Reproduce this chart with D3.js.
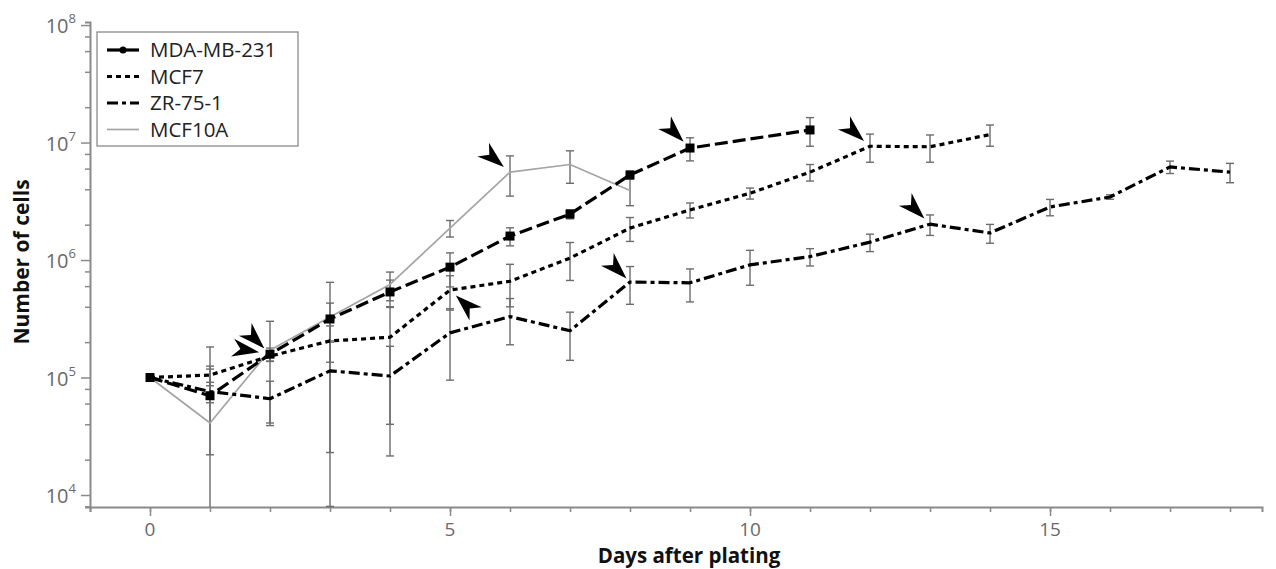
<!DOCTYPE html>
<html><head><meta charset="utf-8">
<script src="https://cdn.jsdelivr.net/npm/d3@7"></script>
<style>body{margin:0;background:#fff}</style>
</head><body><svg id="c" width="1276" height="569"></svg>
<script>
// ---- data ----
const mdaDays = [0,1,2,3,4,5,6,7,8,9,11];
const mdaMean = [1e5,7.0e4,1.58e5,3.15e5,5.35e5,8.7e5,1.6e6,2.46e6,5.3e6,8.98e6,1.28e7];
const mdaSd   = [0,4.8e4,2e4,1.15e5,1.4e5,2.8e5,2.8e5,2.2e5,4e5,2e6,3.5e6];

const mcf7Days = [0,1,2,3,4,5,6,7,8,9,10,11,12,13,14];
const mcf7Mean = [1e5,1.05e5,1.52e5,2.05e5,2.2e5,5.55e5,6.6e5,1.04e6,1.87e6,2.67e6,3.7e6,5.6e6,9.3e6,9.2e6,1.17e7];
const mcf7Sd   = [0,2e4,1.5e4,7e4,1.8e5,1.8e5,2.6e5,3.7e5,4.3e5,3.9e5,4e5,9e5,2.5e6,2.4e6,2.4e6];

const zrDays = [0,1,2,3,4,5,6,7,8,9,10,11,12,13,14,15,16,17,18];
const zrMean = [1e5,7.6e4,6.6e4,1.14e5,1.03e5,2.4e5,3.3e5,2.5e5,6.5e5,6.4e5,9.1e5,1.07e6,1.42e6,2.02e6,1.7e6,2.83e6,3.44e6,6.2e6,5.6e6];
const zrSd   = [0,1.5e4,2.7e4,9.1e4,8.15e4,1.45e5,1.4e5,1.1e5,2.3e5,2e5,3e5,1.8e5,2.4e5,4e5,3.1e5,4.5e5,1.5e5,7.5e5,1.05e6];

const mcf10aDays = [0,1,2,3,4,5,6,7,8];
const mcf10aMean = [1e5,4.1e4,1.71e5,3.27e5,6.2e5,1.87e6,5.6e6,6.5e6,3.9e6];
const mcf10aSd   = [0,1.41e5,1.3e5,3.19e5,1.7e5,3e5,2.1e6,2e6,1e6];

const seriesNames = ["MDA-MB-231","MCF7","ZR-75-1","MCF10A"];
const xTickValues = [0,5,10,15];
const yTickExponents = [4,5,6,7,8];

// arrows: series, day, direction angle (deg), gap px
const arrowSeries = ["MDA-MB-231","MDA-MB-231","MCF7","MCF10A","ZR-75-1","MDA-MB-231","MCF7","ZR-75-1"];
const arrowDays   = [2,2,5,6,8,9,12,13];
const arrowAngles = [45,10,-137,40,45,45,42,45];
const arrowGaps   = [8,11,8,8,5,9,8,8];

// ---- setup ----
const svg = d3.select("#c");
const x = d3.scaleLinear().domain([-1, 18.533]).range([90, 1262]);
const y = d3.scaleLog().domain([Math.pow(10,3.898), Math.pow(10,8.026)]).range([507, 22]);
const FONT = "'Open Sans', 'DejaVu Sans', sans-serif";
const axisCol = "#8a8a8a", labCol = "#6a6a6a";

const series = [
  {name:"MDA-MB-231", days:mdaDays, mean:mdaMean, sd:mdaSd, color:"#000", width:3.2, dash:"13,5", marker:true},
  {name:"MCF7", days:mcf7Days, mean:mcf7Mean, sd:mcf7Sd, color:"#000", width:3.2, dash:"5,4", marker:false},
  {name:"ZR-75-1", days:zrDays, mean:zrMean, sd:zrSd, color:"#000", width:3.2, dash:"11,4,4,4", marker:false},
  {name:"MCF10A", days:mcf10aDays, mean:mcf10aMean, sd:mcf10aSd, color:"#a4a4a4", width:1.7, dash:null, marker:false}
];
series.forEach(s => s.pts = s.days.map((d,i)=>({d, v:s.mean[i], sd:s.sd[i]})));

// ---- axes ----
const yMinor = [];
for (let e=3;e<=8;e++) [2,4,6,8].forEach(m=>{const v=m*Math.pow(10,e); if(v>y.domain()[0] && v<y.domain()[1]) yMinor.push(v);});
const yMajor = yTickExponents.map(e=>Math.pow(10,e));

const gy = svg.append("g").attr("transform","translate(90,0)");
gy.call(d3.axisLeft(y).tickValues(yMinor).tickSize(5).tickFormat(""));
gy.append("g").call(d3.axisLeft(y).tickValues(yMajor).tickSize(9).tickFormat(""));
gy.selectAll("path.domain").attr("stroke",axisCol).attr("stroke-width",2);
gy.selectAll(".tick line").attr("stroke",axisCol).attr("stroke-width",1.5);
gy.selectAll("g > g path.domain").remove();

const yl = svg.append("g").selectAll("text").data(yTickExponents).join("text")
  .attr("x",76).attr("y",e=>y(Math.pow(10,e))+8)
  .attr("text-anchor","end").attr("fill",labCol).attr("font-family",FONT).attr("font-size",20);
yl.append("tspan").text("10");
yl.append("tspan").attr("font-size",13).attr("dy",-10).text(e=>e);

const xMinor = d3.range(-1,19);
const gx = svg.append("g").attr("transform","translate(0,507)");
gx.call(d3.axisBottom(x).tickValues(xMinor).tickSize(5).tickFormat(""));
gx.append("g").call(d3.axisBottom(x).tickValues(xTickValues).tickSize(9).tickFormat(""));
gx.selectAll("path.domain").attr("stroke",axisCol).attr("stroke-width",2);
gx.selectAll(".tick line").attr("stroke",axisCol).attr("stroke-width",1.5);
gx.selectAll("g > g path.domain").remove();
svg.append("g").selectAll("text").data(xTickValues).join("text")
  .attr("x",d=>x(d)).attr("y",536).attr("text-anchor","middle")
  .attr("fill",labCol).attr("font-family",FONT).attr("font-size",19).text(d=>d);

svg.append("text").attr("x",689).attr("y",563).attr("text-anchor","middle")
  .attr("font-family",FONT).attr("font-weight","bold").attr("font-size",20.5).attr("fill","#111")
  .text("Days after plating");
svg.append("text").attr("transform","translate(29,262) rotate(-90)").attr("text-anchor","middle")
  .attr("font-family",FONT).attr("font-weight","bold").attr("font-size",21).attr("fill","#111")
  .text("Number of cells");

// ---- error bars ----
const gErr = svg.append("g");
const yBottom = y.range()[0];
series.forEach(s=>{
  s.pts.filter(p=>p.sd>0).forEach(p=>{
    const cx = x(p.d);
    const hiY = y(p.v+p.sd);
    const loV = p.v-p.sd;
    const loY = loV > y.domain()[0] ? y(loV) : yBottom;
    gErr.append("line").attr("x1",cx).attr("x2",cx).attr("y1",hiY).attr("y2",loY)
      .attr("stroke","#6c6c6c").attr("stroke-width",1.4);
    gErr.append("line").attr("x1",cx-4).attr("x2",cx+4).attr("y1",hiY).attr("y2",hiY)
      .attr("stroke","#6c6c6c").attr("stroke-width",1.4);
    if (loV > y.domain()[0])
      gErr.append("line").attr("x1",cx-4).attr("x2",cx+4).attr("y1",loY).attr("y2",loY)
        .attr("stroke","#6c6c6c").attr("stroke-width",1.4);
  });
});

// ---- lines ----
const line = d3.line().x(p=>x(p.d)).y(p=>y(p.v));
[3,2,1,0].forEach(i=>{
  const s = series[i];
  svg.append("path").datum(s.pts).attr("d",line).attr("fill","none")
    .attr("stroke",s.color).attr("stroke-width",s.width)
    .attr("stroke-dasharray",s.dash).attr("stroke-linejoin","round");
});
svg.append("g").selectAll("rect").data(series[0].pts).join("rect")
  .attr("x",p=>x(p.d)-4.5).attr("y",p=>y(p.v)-4.5).attr("width",9).attr("height",9).attr("fill","#000");

// ---- arrows ----
const byName = Object.fromEntries(series.map(s=>[s.name,s]));
const arrowPath = "M0,0 L-27,-9 L-19,0 L-27,9 Z";
arrowSeries.forEach((nm,i)=>{
  const s = byName[nm];
  const idx = s.days.indexOf(arrowDays[i]);
  const px = x(s.days[idx]), py = y(s.mean[idx]);
  const a = arrowAngles[i]*Math.PI/180;
  const tx = px - arrowGaps[i]*Math.cos(a), ty = py - arrowGaps[i]*Math.sin(a);
  svg.append("path").attr("d",arrowPath).attr("fill","#000")
    .attr("transform",`translate(${tx},${ty}) rotate(${arrowAngles[i]})`);
});

// ---- legend ----
const lg = svg.append("g");
lg.append("rect").attr("x",97).attr("y",32).attr("width",201).attr("height",114)
  .attr("fill","#fff").attr("stroke",axisCol).attr("stroke-width",1.3);
const legendDash = [null,"5,4","11,4,4,4",null];
seriesNames.forEach((nm,i)=>{
  const s = byName[nm];
  const ly = 50 + i*26.5;
  lg.append("line").attr("x1",107).attr("x2",139).attr("y1",ly).attr("y2",ly)
    .attr("stroke",s.color).attr("stroke-width",i===3?1.7:3.2).attr("stroke-dasharray",legendDash[i]);
  if (i===0) lg.append("circle").attr("cx",123).attr("cy",ly).attr("r",3.5).attr("fill","#000");
  lg.append("text").attr("x",150).attr("y",ly+7).attr("font-family",FONT).attr("font-size",20.5)
    .attr("fill","#222").text(nm);
});
</script>
</body></html>
